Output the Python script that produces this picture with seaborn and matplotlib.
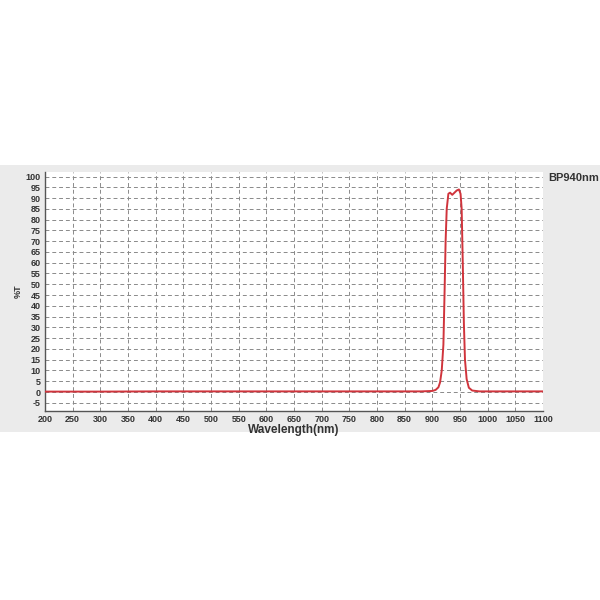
import numpy as np
import pandas as pd
import matplotlib
matplotlib.use("Agg")
import matplotlib.pyplot as plt
import seaborn as sns

# Transmission curve
wavelength = [200, 300, 400, 500, 600, 700, 800, 880, 900, 906, 911, 914, 917, 920,
              922, 924, 926, 929, 932, 936, 940, 944, 948, 951, 953, 955, 957, 959,
              962, 966, 972, 985, 1000, 1050, 1100]
transmission = [0.2, 0.2, 0.3, 0.3, 0.3, 0.3, 0.3, 0.3, 0.5, 1.0, 2.2, 4.5, 10, 22,
                45, 70, 85, 92, 92.5, 91.5, 92.5, 93.5, 94, 92, 85, 60, 32, 15,
                6, 2, 0.7, 0.3, 0.3, 0.3, 0.3]

x_ticks = list(range(200, 1101, 50))
y_ticks = list(range(-5, 101, 5))

df = pd.DataFrame({"wavelength": wavelength, "transmission": transmission})

sns.set_style("white")
plt.rcParams["font.family"] = ["Liberation Sans", "DejaVu Sans"]
plt.rcParams["axes.unicode_minus"] = False

fig = plt.figure(figsize=(6, 6), dpi=100)
fig.patch.set_facecolor("white")
# grey band behind the chart
band = plt.Rectangle((0, 0.28), 1, 0.445, transform=fig.transFigure,
                     facecolor="#ebebeb", edgecolor="none", zorder=-5)
fig.add_artist(band)

ax = fig.add_axes([0.075, 0.315, 0.83, 0.398])
ax.set_facecolor("white")

sns.lineplot(data=df, x="wavelength", y="transmission", ax=ax,
             color="#d0343c", linewidth=1.4, zorder=3)

ax.set_xlim(200, 1100)
ax.set_ylim(-8.8, 102)
ax.set_xticks(x_ticks)
ax.set_yticks(y_ticks)
ax.tick_params(axis="both", labelsize=6.5, length=2.5, direction="in", pad=3,
               colors="#333333")
for lab in ax.get_xticklabels() + ax.get_yticklabels():
    lab.set_fontweight("bold")
    lab.set_color("#333333")

ax.grid(True, color="#8a8a8a", linestyle=(0, (4, 3)), linewidth=0.7)
ax.set_axisbelow(True)

for side in ["top", "right"]:
    ax.spines[side].set_visible(False)
for side in ["left", "bottom"]:
    ax.spines[side].set_color("#555555")
    ax.spines[side].set_linewidth(1.0)

ax.set_xlabel("Wavelength(nm)", fontsize=8.5, fontweight="bold", labelpad=0,
              color="#333333")
ax.set_ylabel("%T", fontsize=6.5, fontweight="bold", labelpad=2, color="#333333")

fig.text(0.913, 0.698, "BP940nm", fontsize=8, fontweight="bold", color="#333333")

fig.savefig("out.png", dpi=100, facecolor=fig.get_facecolor())
